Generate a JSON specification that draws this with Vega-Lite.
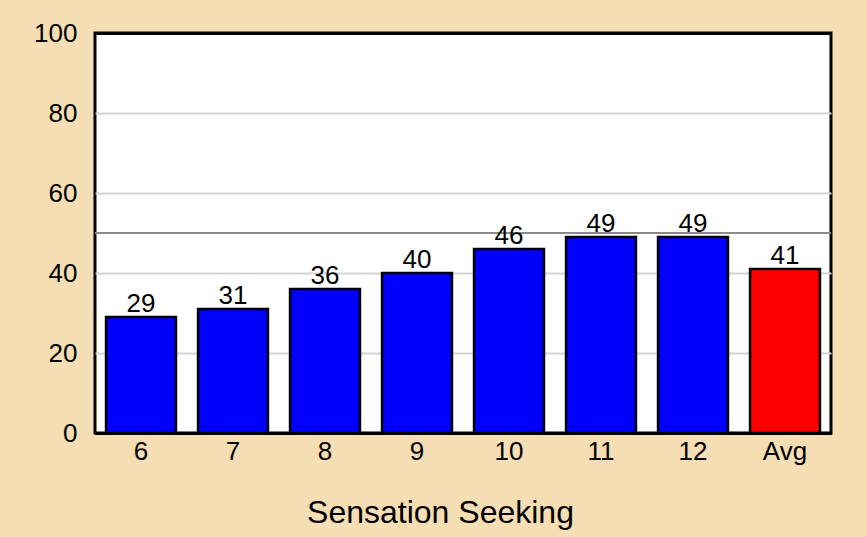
{
  "$schema": "https://vega.github.io/schema/vega-lite/v6.json",
  "width": 736,
  "height": 400,
  "autosize": {"type": "none"},
  "padding": {"left": 95, "top": 33, "right": 36, "bottom": 104},
  "background": "#F5DEB3",
  "config": {
    "view": {"stroke": "black", "strokeWidth": 3, "fill": "white"},
    "font": "Liberation Sans"
  },
  "data": {
    "values": [
      {"group": "6", "value": 29, "kind": "group"},
      {"group": "7", "value": 31, "kind": "group"},
      {"group": "8", "value": 36, "kind": "group"},
      {"group": "9", "value": 40, "kind": "group"},
      {"group": "10", "value": 46, "kind": "group"},
      {"group": "11", "value": 49, "kind": "group"},
      {"group": "12", "value": 49, "kind": "group"},
      {"group": "Avg", "value": 41, "kind": "avg"}
    ]
  },
  "layer": [
    {
      "data": {"values": [{"ref": 50}]},
      "mark": {"type": "rule", "color": "#8a8a8a", "strokeWidth": 2},
      "encoding": {
        "y": {"field": "ref", "type": "quantitative", "scale": {"domain": [0, 100]}}
      }
    },
    {
      "mark": {"type": "bar", "stroke": "black", "strokeWidth": 2.5},
      "encoding": {
        "x": {
          "field": "group", "type": "nominal", "sort": null,
          "scale": {"paddingInner": 0.24, "paddingOuter": 0.12},
          "axis": {
            "labelAngle": 0, "labelFontSize": 26, "labelColor": "black",
            "ticks": false, "domain": true, "domainColor": "black", "domainWidth": 3,
            "labelPadding": 5,
            "title": "Sensation Seeking", "titleFontSize": 32,
            "titleFontWeight": "normal", "titleColor": "black", "titlePadding": 33,
            "titleX": 345, "titleAlign": "center"
          }
        },
        "y": {
          "field": "value", "type": "quantitative",
          "scale": {"domain": [0, 100], "nice": false},
          "axis": {
            "values": [0, 20, 40, 60, 80, 100],
            "labelFontSize": 26, "labelColor": "black",
            "ticks": false, "domain": false, "labelPadding": 18,
            "grid": true,
            "gridColor": {"condition": {"test": "datum.value === 0 || datum.value === 100", "value": "black"}, "value": "#d3d3d3"},
            "gridWidth": {"condition": {"test": "datum.value === 0 || datum.value === 100", "value": 3}, "value": 2},
            "title": null
          }
        },
        "color": {
          "field": "kind", "type": "nominal",
          "scale": {"domain": ["group", "avg"], "range": ["#0000FF", "#FF0000"]},
          "legend": null
        }
      }
    },
    {
      "mark": {"type": "text", "fontSize": 26, "baseline": "alphabetic", "dy": -5, "color": "black"},
      "encoding": {
        "x": {"field": "group", "type": "nominal", "sort": null},
        "y": {"field": "value", "type": "quantitative"},
        "text": {"field": "value", "type": "quantitative"}
      }
    }
  ]
}
